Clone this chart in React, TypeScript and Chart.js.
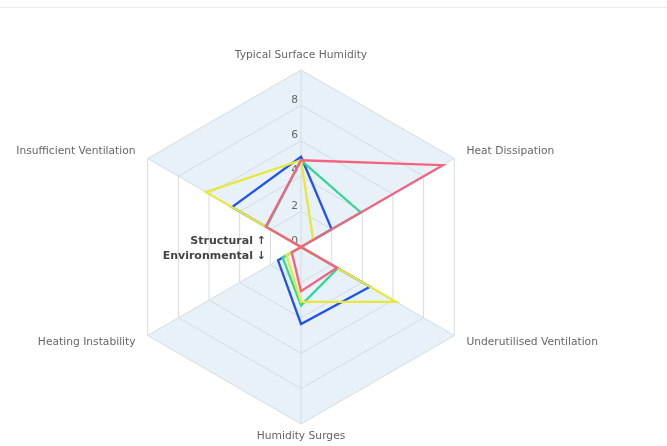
import React, { useEffect, useRef } from "react";
import { Chart, registerables } from "chart.js";

Chart.register(...registerables);

// ---- data ----
const categories = [
  "Typical Surface Humidity",
  "Heat Dissipation",
  "Underutilised Ventilation",
  "Humidity Surges",
  "Heating Instability",
  "Insufficient Ventilation",
];
const tickValues = [0, 2, 4, 6, 8];
const seriesNames = ["Series D", "Series C", "Series B", "Series A"];
const seriesColors = ["#f5627f", "#e6e83c", "#2fd894", "#1f52ee"];

// Structural (upper) axes: Typical Surface Humidity, Heat Dissipation, Insufficient Ventilation
const typicalSurfaceHumidity = [4.9, 4.9, 4.9, 5.1];
const heatDissipation = [9.25, 0.8, 3.9, 2.0];
const insufficientVentilation = [2.3, 6.2, 2.25, 4.5];
// Environmental (lower) axes: Underutilised Ventilation, Humidity Surges, Heating Instability
const underutilisedVentilation = [2.35, 6.2, 2.4, 4.5];
const humiditySurges = [2.5, 3.1, 3.3, 4.35];
const heatingInstability = [0.6, 0.95, 1.2, 1.5];

const FILL = "#e9f1f8";
const GRID = "#d3dce3";
const LABEL_FONT = "10.7px 'DejaVu Sans', sans-serif";

const decorPlugin = {
  id: "decor",
  beforeDraw(chart: any) {
    const s = chart.scales.r;
    const ctx = chart.ctx;
    const R = s.getDistanceFromCenterForValue(10);
    ctx.save();
    ctx.fillStyle = FILL;
    for (const group of [[5, 0, 1], [2, 3, 4]]) {
      ctx.beginPath();
      ctx.moveTo(s.xCenter, s.yCenter);
      group.forEach((i) => {
        const p = s.getPointPosition(i, R);
        ctx.lineTo(p.x, p.y);
      });
      ctx.closePath();
      ctx.fill();
    }
    ctx.restore();
  },
  beforeDatasetsDraw(chart: any) {
    const s = chart.scales.r;
    const ctx = chart.ctx;
    const R = s.getDistanceFromCenterForValue(10);
    ctx.save();
    // tick labels
    ctx.font = LABEL_FONT;
    ctx.fillStyle = "#666";
    ctx.textAlign = "right";
    ctx.textBaseline = "middle";
    tickValues.forEach((v) => {
      const d = s.getDistanceFromCenterForValue(v);
      ctx.fillText(String(v), s.xCenter - 3, s.yCenter - d - 5.5);
    });
    // point labels
    const extra = [15, 14, 14, 12.5, 14, 14];
    categories.forEach((label, i) => {
      const p = s.getPointPosition(i, R + extra[i]);
      const dx = p.x - s.xCenter;
      ctx.textAlign = Math.abs(dx) < 1 ? "center" : dx > 0 ? "left" : "right";
      ctx.fillText(label, p.x, p.y);
    });
    // center annotation
    ctx.font = "bold 11px 'DejaVu Sans', sans-serif";
    ctx.fillStyle = "#444";
    ctx.textAlign = "right";
    ctx.fillText("Structural \u2191", s.xCenter - 35, s.yCenter - 5.5);
    ctx.fillText("Environmental \u2193", s.xCenter - 35, s.yCenter + 9);
    ctx.restore();
  },
};

export default function App() {
  const ref = useRef<HTMLCanvasElement>(null);
  useEffect(() => {
    if (!ref.current) return;
    const datasets: any[] = [];
    seriesNames.forEach((name, k) => {
      const common = {
        borderColor: seriesColors[k],
        backgroundColor: seriesColors[k],
        borderWidth: 2.3,
        pointRadius: 0,
        fill: false,
      };
      datasets.push({
        label: name + " (structural)",
        data: [typicalSurfaceHumidity[k], heatDissipation[k], 0, 0, 0, insufficientVentilation[k]],
        ...common,
      });
      datasets.push({
        label: name + " (environmental)",
        data: [0, 0, underutilisedVentilation[k], humiditySurges[k], heatingInstability[k], 0],
        ...common,
      });
    });
    const chart = new Chart(ref.current, {
      type: "radar",
      data: { labels: categories, datasets },
      plugins: [decorPlugin],
      options: {
        responsive: false,
        animation: false,
        layout: { padding: { left: 116, right: 180, top: 62, bottom: 21 } },
        plugins: { legend: { display: false }, tooltip: { enabled: false } },
        scales: {
          r: {
            min: 0,
            max: 10,
            ticks: { display: false, stepSize: 2 },
            pointLabels: { display: false },
            grid: { color: GRID, lineWidth: 1 },
            angleLines: { color: GRID, lineWidth: 1 },
          },
        },
      } as any,
    });
    return () => chart.destroy();
  }, []);
  return (
    <div>
      <div style={{ position: "fixed", top: 7, left: 0, right: 0, height: 1, background: "#ececec" }} />
      <canvas ref={ref} width={651} height={438} style={{ display: "block" }} />
    </div>
  );
}
